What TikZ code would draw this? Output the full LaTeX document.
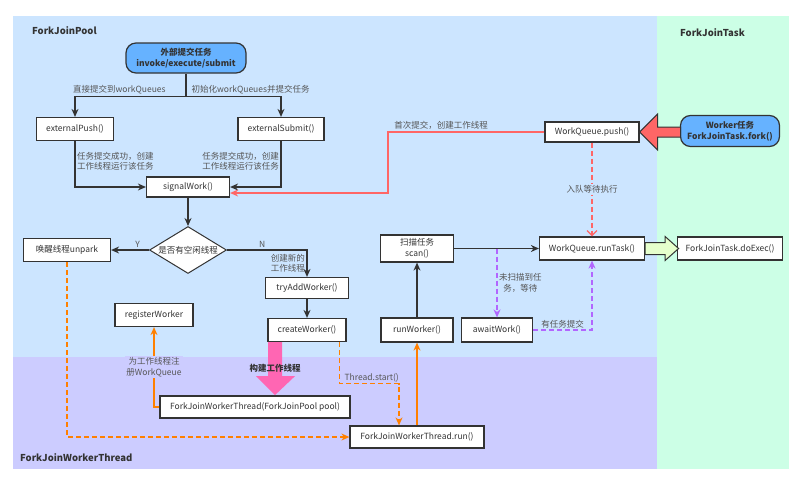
\documentclass[tikz,border=0pt]{standalone}
\usepackage{fontspec}
\setmainfont{Noto Sans CJK SC}
\usetikzlibrary{shapes.geometric,arrows.meta,calc,positioning}

\definecolor{poolbg}{HTML}{CCE5FF}
\definecolor{threadbg}{HTML}{CCCCFF}
\definecolor{taskbg}{HTML}{CCFFE6}
\definecolor{entryfill}{HTML}{66B2FF}
\definecolor{linegray}{HTML}{333333}
\definecolor{txtgray}{HTML}{333333}
\definecolor{lblgray}{HTML}{555555}
\definecolor{redline}{HTML}{FF6666}
\definecolor{orangeline}{HTML}{FF8000}
\definecolor{purpleline}{HTML}{B266FF}
\definecolor{pinkarrow}{HTML}{FF66B3}
\definecolor{greenarrow}{HTML}{E6FFCC}

\begin{document}
\begin{tikzpicture}[x=1pt,y=-1pt,
    font=\fontsize{8.5}{10.5}\selectfont,
    method/.style={draw=linegray,line width=1.2pt,fill=white,text=txtgray,inner sep=0pt,align=center},
    entrybox/.style={method,rounded corners=10pt,fill=entryfill,font=\fontsize{8.5}{10.5}\selectfont\bfseries},
    choice/.style={diamond,draw=linegray,line width=1pt,fill=white,text=txtgray,inner sep=0pt,aspect=1.64,minimum width=77,minimum height=47},
    transition/.style={draw=linegray,line width=1.3pt,-{Stealth[length=8pt,width=7pt]}},
    firstcall/.style={draw=redline,line width=1.2pt,-{Stealth[length=8pt,width=7pt]}},
    queued/.style={draw=redline,line width=1.2pt,dash pattern=on 5pt off 3pt,-{Straight Barb[length=5pt,width=10pt]}},
    waiting/.style={draw=purpleline,line width=1.3pt,dash pattern=on 5pt off 3pt,-{Stealth[length=8pt,width=7pt]}},
    wakeup/.style={draw=orangeline,line width=1.3pt,dash pattern=on 5pt off 3pt,-{Stealth[length=8pt,width=7pt]}},
    threadcall/.style={draw=orangeline,line width=1.3pt,-{Stealth[length=8pt,width=7pt]}},
    note/.style={text=lblgray,align=center,inner sep=1.5pt},
    region/.style={font=\fontsize{9.5}{11}\selectfont\bfseries,text=txtgray,anchor=west,inner sep=0pt}
    ]
    \useasboundingbox (0,0) rectangle (800,479);
    % areas
    \fill[poolbg] (13,16) rectangle (657,357);
    \fill[threadbg] (13,357) rectangle (657,469);
    \fill[taskbg] (657,16) rectangle (789,469);
    \node[region] (pooltitle) at (32,31) {ForkJoinPool};
    \node[region] (tasktitle) at (680,33) {ForkJoinTask};
    \node[region] (threadtitle) at (20,458) {ForkJoinWorkerThread};

    % ForkJoinPool
    \node[entrybox,minimum width=120,minimum height=30] (submit) at (186,58) {外部提交任务\\invoke/execute/submit};
    \node[method,minimum width=77,minimum height=23] (extpush) at (75,129) {externalPush()};
    \node[method,minimum width=86,minimum height=23] (extsubmit) at (281,129) {externalSubmit()};
    \node[method,minimum width=83,minimum height=20] (signal) at (188,187) {signalWork()};
    \node[choice] (idle) at (188,250) {是否有空闲线程};
    \node[method,minimum width=87,minimum height=23] (unpark) at (67,250) {唤醒线程unpark};
    \node[method,minimum width=83,minimum height=21] (tryadd) at (307,288) {tryAddWorker()};
    \node[method,minimum width=78,minimum height=23] (create) at (307,330) {createWorker()};
    \node[method,minimum width=78,minimum height=23] (register) at (154,315) {registerWorker};
    \node[method,minimum width=73,minimum height=27] (scan) at (417,248.5) {扫描任务\\scan()};
    \node[method,minimum width=72,minimum height=24] (runworker) at (417,330) {runWorker()};
    \node[method,minimum width=71,minimum height=24] (await) at (497,330) {awaitWork()};
    \node[method,minimum width=105,minimum height=23] (runtask) at (592,248.5) {WorkQueue.runTask()};
    \node[method,minimum width=94,minimum height=20] (push) at (592,132) {WorkQueue.push()};

    % ForkJoinWorkerThread
    \node[method,minimum width=190,minimum height=22] (ctor) at (255,407) {ForkJoinWorkerThread(ForkJoinPool pool)};
    \node[method,minimum width=134,minimum height=22] (run) at (417,437) {ForkJoinWorkerThread.run()};

    % ForkJoinTask
    \node[entrybox,minimum width=99,minimum height=31] (fork) at (730,131) {Worker任务\\ForkJoinTask.fork()};
    \node[method,minimum width=105,minimum height=23] (doexec) at (730,248.5) {ForkJoinTask.doExec()};

    % external submit
    \coordinate (split) at ($(submit.south)+(0,23)$);
    \draw[draw=linegray,line width=1.3pt] (submit.south) -- (split);
    \draw[transition] (split) -| node[note,pos=0.3,above] {直接提交到workQueues} (extpush.north);
    \draw[transition] (split) -| node[note,pos=0.34,above] {初始化workQueues并提交任务} (extsubmit.north);
    \draw[transition] (extpush.south) |- node[note,pos=0.22,right,align=left] {任务提交成功，创建\\工作线程运行该任务} (signal.west);
    \draw[transition] (extsubmit.south) |- node[note,pos=0.22,left,align=left] {任务提交成功，创建\\工作线程运行该任务} (signal.east);
    \coordinate (redturn) at (388,193);
    \draw[firstcall] (push.west) -| node[note,pos=0.33,above] {首次提交，创建工作线程} (redturn) -- (redturn -| signal.east);

    % signalWork
    \draw[transition] (signal) -- (idle);
    \draw[transition] (idle) -- node[note,pos=0.3,above] {Y} (unpark);
    \draw[transition] (idle.east) -| node[note,pos=0.22,above] {N} node[note,pos=0.75,left,align=left] {创建新的\\工作线程} (tryadd.north);
    \draw[transition] (tryadd) -- (create);
    \fill[pinkarrow] (create.south) ++(-39,0) -- ++(14,0) -- ++(0,34) -- ++(13,0) -- ++(-20,19) -- ++(-19,-19) -- ++(12,0) -- cycle;
    \node[note,text=txtgray,font=\fontsize{8.5}{10.5}\selectfont\bfseries] (buildlbl) at (275,368) {构建工作线程};
    \draw[threadcall] (ctor.west) -| node[note,pos=0.75,fill=threadbg] {为工作线程注\\册WorkQueue} (register.south);
    \draw[wakeup] (unpark.south) |- (run.west);
    \draw[wakeup] ($(create.south east)+(-7,0)$) -- ++(0,41.5) -| node[note,pos=0.27,above,inner sep=0.5pt] {Thread.start()} ($(run.north)+(-18,0)$);

    % worker loop
    \draw[threadcall] (run.north) -- (runworker.south);
    \draw[transition] (runworker) -- (scan);
    \draw[transition] (scan) -- (runtask);
    \draw[waiting] (await.north |- scan.east) -- node[note,right] {未扫描到任\\务，等待} (await.north);
    \draw[waiting] (await.east) -| node[note,pos=0.25,above] {有任务提交} (runtask.south);
    \draw[queued] (push) -- node[note,fill=poolbg] {入队等待执行} (runtask);

    % fork and exec
    \filldraw[fill=redline,draw=linegray,line width=1pt] (push.east) -- ++(18,-18) -- ++(0,13) -- ++(23,0) -- ++(0,10) -- ++(-23,0) -- ++(0,13) -- cycle;
    \filldraw[fill=greenarrow,draw=linegray,line width=1pt] (runtask.east) ++(0,-6) -- ++(20,0) -- ++(0,-6) -- ++(13.5,12) -- ++(-13.5,12) -- ++(0,-6) -- ++(-20,0) -- cycle;
  \end{tikzpicture}
\end{document}
